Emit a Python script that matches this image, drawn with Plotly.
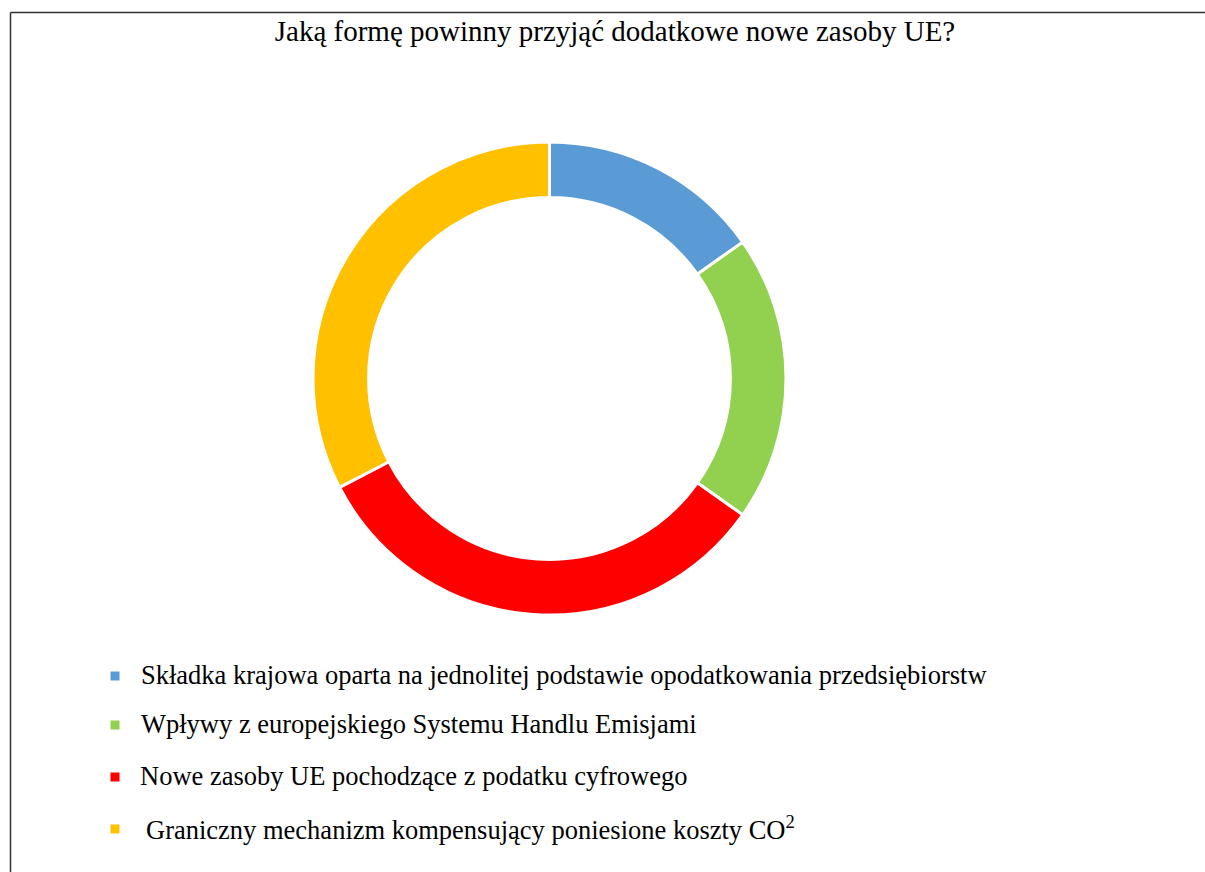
import plotly.graph_objects as go

title_text = "Jaką formę powinny przyjąć dodatkowe nowe zasoby UE?"
labels = [
    "Składka krajowa oparta na jednolitej podstawie opodatkowania przedsiębiorstw",
    "Wpływy z europejskiego Systemu Handlu Emisjami",
    "Nowe zasoby UE pochodzące z podatku cyfrowego",
    "Graniczny mechanizm kompensujący poniesione koszty CO<sup>2</sup>",
]
values = [7, 9, 15, 15]
colors = ["#5B9BD5", "#92D050", "#FF0000", "#FFC000"]

W, H = 1205, 872
FONT = "Liberation Serif, Times New Roman, serif"

def px_x(x):
    return x / W

def px_y(y):
    return 1 - y / H

cx, cy, r = 549.5, 378.5, 236.5

fig = go.Figure()
fig.add_trace(go.Pie(
    labels=labels,
    values=values,
    marker=dict(colors=colors, line=dict(color="white", width=3)),
    hole=0.765,
    sort=False,
    direction="clockwise",
    rotation=0,
    textinfo="none",
    showlegend=False,
    domain=dict(x=[px_x(cx - r), px_x(cx + r)], y=[px_y(cy + r), px_y(cy - r)]),
))

# custom legend (layout positions)
legend_y = [676, 725, 777, 829]
legend_text_x = [139, 139, 138, 144]
shapes = []
annotations = []
for i, (lab, col) in enumerate(zip(labels, colors)):
    yc = legend_y[i]
    shapes.append(dict(type="rect", xref="paper", yref="paper",
                       x0=px_x(110.5), x1=px_x(119.5), y0=px_y(yc + 4.5), y1=px_y(yc - 4.5),
                       fillcolor=col, line=dict(width=0)))
    annotations.append(dict(text=lab, xref="paper", yref="paper",
                            x=px_x(legend_text_x[i]), y=px_y(yc - 1),
                            xanchor="left", yanchor="middle", showarrow=False,
                            font=dict(family=FONT, size=26.5, color="black")))

# frame lines
shapes.append(dict(type="line", xref="paper", yref="paper",
                   x0=px_x(10.5), x1=1, y0=px_y(12.5), y1=px_y(12.5),
                   line=dict(color="#333333", width=1.5)))
shapes.append(dict(type="line", xref="paper", yref="paper",
                   x0=px_x(10.5), x1=px_x(10.5), y0=px_y(12.5), y1=0,
                   line=dict(color="#333333", width=1.5)))

fig.update_layout(
    width=W, height=H,
    margin=dict(l=0, r=0, t=0, b=0),
    paper_bgcolor="white",
    plot_bgcolor="white",
    title=dict(text=title_text, x=px_x(615), xanchor="center",
               y=px_y(31), yanchor="middle",
               font=dict(family=FONT, size=29, color="black")),
    shapes=shapes,
    annotations=annotations,
)

fig.write_html("out.html", config={"displayModeBar": False},
               post_script="document.body.style.margin='0';")
